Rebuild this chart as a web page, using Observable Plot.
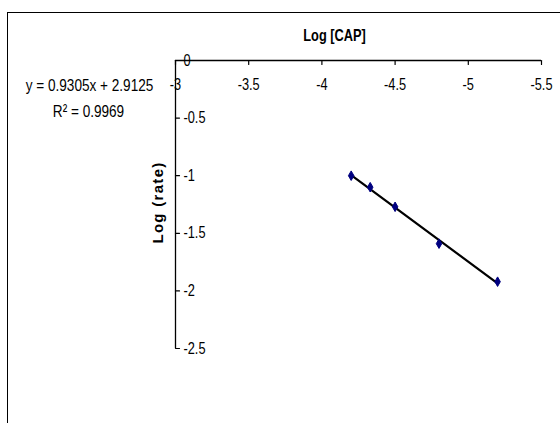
<!DOCTYPE html>
<html><head><meta charset="utf-8">
<script src="https://cdn.jsdelivr.net/npm/d3@7"></script>
<script src="https://cdn.jsdelivr.net/npm/@observablehq/plot@0.6"></script>
<style>
body{margin:0;background:#fff}
#wrap{position:relative;width:560px;height:423px;overflow:hidden;background:#fff}
#box{position:absolute;left:7px;top:12px;width:620px;height:500px;border:1.5px solid #000;box-sizing:border-box}
#wrap svg{position:absolute;left:0;top:0}
</style></head><body><div id="wrap"><div id="box"></div></div>
<script>
const logCAP = [-4.2, -4.33, -4.5, -4.8, -5.2];
const logRate = [-1.0, -1.1, -1.27, -1.59, -1.92];
const xTicks = [-3, -3.5, -4, -4.5, -5, -5.5];
const yTicks = [0, -0.5, -1, -1.5, -2, -2.5];
const xTitle = "Log [CAP]";
const yTitle = "Log (rate)";
const eqText = "y = 0.9305x + 2.9125";
const r2Text = "R² = 0.9969";

const data = logCAP.map((x, i) => ({x, y: logRate[i]}));
const fmt = d => String(d);
const tickShape = {draw(ctx, l) { ctx.moveTo(0, 0); ctx.lineTo(0, -l); }};
const font = "'Liberation Sans', Arial, sans-serif";
const yMin = d3.min(yTicks), yMax = d3.max(yTicks);

const plot = Plot.plot({
  width: 560, height: 423,
  marginTop: 60, marginLeft: 175, marginRight: 19, marginBottom: 75,
  x: {domain: [xTicks[0], xTicks[xTicks.length - 1]], axis: null},
  y: {domain: [yMin, yMax], axis: null},
  style: {fontFamily: font, background: "transparent", color: "#000"},
  marks: [
    Plot.ruleY([yMax], {x1: xTicks[0], x2: xTicks[xTicks.length - 1], stroke: "#000", strokeWidth: 1.3}),
    Plot.ruleX([xTicks[0]], {y1: yMax, y2: yMin, stroke: "#000", strokeWidth: 1.3}),
    Plot.vector(xTicks, {x: d => d, y: () => yMax, length: 4, rotate: 180, anchor: "start", shape: tickShape, stroke: "#000", strokeWidth: 1.2}),
    Plot.vector(yTicks, {x: () => xTicks[0], y: d => d, length: 4, rotate: 90, anchor: "start", shape: tickShape, stroke: "#000", strokeWidth: 1.2}),
    Plot.text(xTicks, {x: d => d, y: () => yMax, text: fmt, dy: 24, fontSize: 16, fill: "#000"}),
    Plot.text(yTicks, {x: () => xTicks[0], y: d => d, text: fmt, dx: 8, textAnchor: "start", fontSize: 16, fill: "#000"}),
    Plot.linearRegressionY(data, {x: "x", y: "y", ci: 0, stroke: "#000", strokeWidth: 2.2}),
    Plot.dot(data, {x: "x", y: "y", symbol: "diamond", r: 2.9, fill: "#000080", stroke: "#000080", strokeWidth: 1}),
    Plot.text([xTitle], {frameAnchor: "top", text: d => d, textAnchor: "middle", lineAnchor: "middle", dx: -24, dy: -25, fontWeight: "bold", fontSize: 16, fill: "#000"}),
    Plot.text([yTitle], {frameAnchor: "left", text: d => d, textAnchor: "middle", lineAnchor: "middle", rotate: -90, dx: -17, dy: -2, fontWeight: "bold", fontSize: 15, fill: "#000"}),
    Plot.text([eqText], {frameAnchor: "top-left", text: d => d, textAnchor: "middle", lineAnchor: "middle", dx: -86, dy: 25, fontSize: 17, fill: "#000"}),
    Plot.text([r2Text], {frameAnchor: "top-left", text: d => d, textAnchor: "middle", lineAnchor: "middle", dx: -87, dy: 51, fontSize: 17, fill: "#000"})
  ]
});

d3.select(plot).selectAll("text").each(function() {
  const t = this.getAttribute("transform") || "";
  if (this.textContent === yTitle) {
    this.setAttribute("letter-spacing", "1.3");
  } else {
    this.setAttribute("transform", t + " scale(0.8,1)");
  }
});
document.getElementById("wrap").appendChild(plot);
</script>
</body></html>
